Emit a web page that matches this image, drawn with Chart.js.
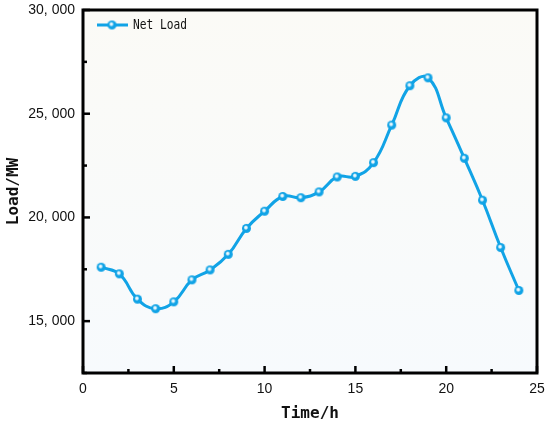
<!DOCTYPE html>
<html>
<head>
<meta charset="utf-8">
<script src="https://cdn.jsdelivr.net/npm/chart.js@4"></script>
<style>
html,body{margin:0;padding:0;background:#fff;}
#wrap{width:550px;height:426px;}
</style>
</head>
<body>
<div id="wrap"><canvas id="c" width="550" height="426"></canvas></div>
<script>
const hours = [1,2,3,4,5,6,7,8,9,10,11,12,13,14,15,16,17,18,19,20,21,22,23,24];
const netLoad = [17600,17280,16060,15600,15930,16990,17470,18220,19470,20300,21010,20950,21230,21950,21980,22640,24450,26350,26730,24800,22850,20830,18550,16480];
const seriesName = 'Net Load';
const yTickLabels = {15000:'15, 000',20000:'20, 000',25000:'25, 000',30000:'30, 000'};
const xTickLabels = {0:'0',5:'5',10:'10',15:'15',20:'20',25:'25'};

const blue = '#11a3e6';

// sphere-like marker
function makeMarker(r){
  const c = document.createElement('canvas');
  const s = r*2+2;
  c.width = s; c.height = s;
  const g = c.getContext('2d');
  const cx = s/2, cy = s/2;
  g.beginPath(); g.arc(cx,cy,r,0,Math.PI*2);
  g.fillStyle = blue; g.fill();
  const hx = cx-0.6, hy = cy-0.8;
  const rg = g.createRadialGradient(hx,hy,0,hx,hy,r*0.55);
  rg.addColorStop(0,'rgba(255,255,255,1)');
  rg.addColorStop(0.5,'rgba(255,255,255,0.85)');
  rg.addColorStop(1,'rgba(255,255,255,0)');
  g.beginPath(); g.arc(cx,cy,r,0,Math.PI*2);
  g.fillStyle = rg; g.fill();
  return c;
}
const marker = makeMarker(4.5);

const framePlugin = {
  id:'frame',
  beforeDatasetsDraw(chart){
    const {ctx, chartArea:a} = chart;
    ctx.save();
    const gr = ctx.createLinearGradient(0,a.top,0,a.bottom);
    gr.addColorStop(0,'#fbfaf6');
    gr.addColorStop(1,'#f7fafd');
    ctx.fillStyle = gr;
    ctx.fillRect(a.left,a.top,a.right-a.left,a.bottom-a.top);
    ctx.restore();
  },
  afterDraw(chart){
    const {ctx, chartArea:a, scales} = chart;
    ctx.save();
    ctx.strokeStyle = '#000';
    ctx.lineWidth = 3;
    ctx.strokeRect(a.left,a.top,a.right-a.left,a.bottom-a.top);
    // inward ticks
    ctx.lineWidth = 2.5;
    scales.y.ticks.forEach(t=>{
      const py = scales.y.getPixelForValue(t.value);
      const major = t.value % 5000 === 0;
      ctx.beginPath();
      ctx.moveTo(a.left, py);
      ctx.lineTo(a.left + (major?7:4), py);
      ctx.stroke();
    });
    scales.x.ticks.forEach(t=>{
      const px = scales.x.getPixelForValue(t.value);
      const major = t.value % 5 === 0;
      ctx.beginPath();
      ctx.moveTo(px, a.bottom);
      ctx.lineTo(px, a.bottom - (major?7:4));
      ctx.stroke();
    });
    // legend
    const lx = 97, ly = 25;
    ctx.strokeStyle = blue;
    ctx.lineWidth = 3;
    ctx.beginPath(); ctx.moveTo(lx,ly); ctx.lineTo(lx+31,ly); ctx.stroke();
    ctx.drawImage(marker, lx+15-marker.width/2, ly-marker.height/2);
    ctx.fillStyle = '#111';
    ctx.font = '14px "DejaVu Sans Mono"';
    ctx.textBaseline = 'middle';
    ctx.textAlign = 'left';
    const w = ctx.measureText(seriesName).width;
    ctx.translate(lx+36, ly);
    ctx.scale(54/w, 1);
    ctx.fillText(seriesName, 0, 0);
    ctx.restore();
  }
};

new Chart(document.getElementById('c'), {
  type:'line',
  data:{
    datasets:[{
      label: seriesName,
      data: hours.map((h,i)=>({x:h,y:netLoad[i]})),
      borderColor: blue,
      borderWidth: 3,
      tension: 0.45,
      pointStyle: marker,
      pointRadius: 5,
      pointHoverRadius: 5,
      fill:false
    }]
  },
  options:{
    responsive:false,
    animation:false,
    devicePixelRatio:1,
    layout:{padding:{top:10,right:13,left:0,bottom:0}},
    plugins:{legend:{display:false},tooltip:{enabled:false}},
    scales:{
      x:{
        type:'linear', min:0, max:25,
        grid:{display:false, drawTicks:false},
        border:{display:false},
        ticks:{stepSize:2.5, padding:8, color:'#111', autoSkip:false, maxRotation:0,
          font:{family:'"Liberation Sans", Arial', size:14},
          callback:v=> (xTickLabels[v] !== undefined ? xTickLabels[v] : '')},
        title:{display:true, text:'Time/h', color:'#111', padding:{top:0,bottom:3},
          font:{family:'"DejaVu Sans Mono"', size:16, weight:'bold'}},
        afterFit(s){ s.height = 53; s.paddingLeft = 0; s.paddingRight = 0; }
      },
      y:{
        type:'linear', min:12500, max:30000,
        grid:{display:false, drawTicks:false},
        border:{display:false},
        ticks:{stepSize:2500, padding:8, color:'#111', autoSkip:false,
          font:{family:'"Liberation Sans", Arial', size:14},
          callback:v=> (yTickLabels[v] !== undefined ? yTickLabels[v] : '')},
        title:{display:true, text:'Load/MW', color:'#111', padding:{top:4,bottom:0},
          font:{family:'"DejaVu Sans Mono"', size:16, weight:'bold'}},
        afterFit(s){ s.width = 83; s.paddingTop = 0; s.paddingBottom = 0; }
      }
    }
  },
  plugins:[framePlugin]
});
</script>
</body>
</html>
